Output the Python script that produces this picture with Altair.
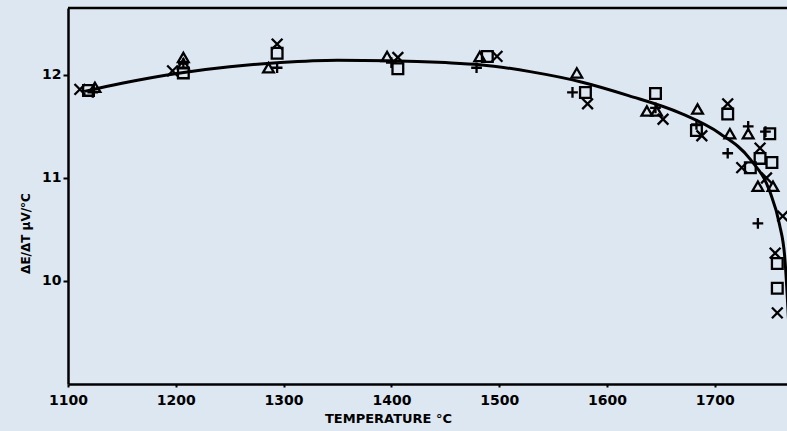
import altair as alt
import pandas as pd

# Fitted curve
curve_t = [1115, 1150, 1204, 1250, 1297, 1350, 1397, 1450, 1482, 1530, 1577, 1620, 1668, 1705, 1733, 1751, 1760, 1765, 1767, 1769]
curve_v = [11.84, 11.92, 12.02, 12.08, 12.12, 12.142, 12.138, 12.12, 12.10, 12.03, 11.93, 11.80, 11.63, 11.43, 11.18, 10.87, 10.55, 10.22, 9.90, 9.5]

# Measured points, four series (marker shapes)
tri_t = [1125, 1207, 1207, 1286, 1396, 1482, 1572, 1637, 1646, 1684, 1714, 1731, 1740, 1754]
tri_v = [11.88, 12.17, 12.11, 12.07, 12.18, 12.18, 12.02, 11.65, 11.65, 11.67, 11.43, 11.43, 10.92, 10.92]

crs_t = [1111, 1197, 1294, 1406, 1498, 1582, 1652, 1688, 1712, 1725, 1742, 1748, 1763, 1756, 1758]
crs_v = [11.86, 12.04, 12.30, 12.17, 12.18, 11.72, 11.57, 11.41, 11.72, 11.10, 11.29, 11.00, 10.63, 10.27, 9.69]

pls_t = [1123, 1207, 1294, 1400, 1479, 1568, 1645, 1683, 1712, 1731, 1747, 1740]
pls_v = [11.83, 12.11, 12.07, 12.12, 12.07, 11.83, 11.68, 11.52, 11.24, 11.50, 11.45, 10.56]

sq_t = [1119, 1207, 1294, 1406, 1489, 1580, 1645, 1683, 1712, 1733, 1742, 1751, 1753, 1758, 1758]
sq_v = [11.85, 12.02, 12.21, 12.06, 12.18, 11.83, 11.82, 11.46, 11.62, 11.10, 11.19, 11.43, 11.15, 10.17, 9.93]

x_ticks = [1100, 1200, 1300, 1400, 1500, 1600, 1700]
y_ticks = [10, 11, 12]
x_dom = [1100, 1767]
y_dom = [9, 12.65]

curve = pd.DataFrame({"T": curve_t, "V": curve_v})
rows = []
for name, ts, vs in [("triangle", tri_t, tri_v), ("cross", crs_t, crs_v),
                     ("plus", pls_t, pls_v), ("square", sq_t, sq_v)]:
    for t, v in zip(ts, vs):
        rows.append({"T": t, "V": v, "s": name})
pts = pd.DataFrame(rows)

FONT = "DejaVu Sans"
xs = alt.Scale(domain=x_dom, nice=False, zero=False)
ys = alt.Scale(domain=y_dom, nice=False, zero=False)

xax = alt.Axis(values=x_ticks, title="TEMPERATURE °C", grid=False, format="d",
               labelFont=FONT, labelFontSize=14, labelFontWeight="bold", labelColor="black",
               labelPadding=6, tickSize=3, tickColor="black", tickWidth=2,
               domainColor="black", domainWidth=2.5,
               titleFont=FONT, titleFontSize=13, titleFontWeight="bold", titleColor="black",
               titleX=320, titleY=34, titleBaseline="middle", titleAnchor="middle",
               labelFlush=False)
yax = alt.Axis(values=y_ticks, title="ΔE/ΔT  μV/°C", grid=False, format="d",
               labelFont=FONT, labelFontSize=14, labelFontWeight="bold", labelColor="black",
               labelPadding=2, tickSize=5, tickColor="black", tickWidth=2,
               domainColor="black", domainWidth=2.5,
               titleFont=FONT, titleFontSize=12, titleFontWeight="bold", titleColor="black",
               titleX=-43, titleY=225, titleAngle=-90, titleBaseline="middle", titleAnchor="middle")

line = alt.Chart(curve).mark_line(color="black", strokeWidth=3, interpolate="monotone", clip=True).encode(
    x=alt.X("T:Q", scale=xs, axis=xax),
    y=alt.Y("V:Q", scale=ys, axis=yax),
)

xpath = "M-1,-1L1,1M-1,1L1,-1"
ppath = "M-1,0L1,0M0,-1L0,1"
points = alt.Chart(pts).mark_point(filled=False, color="black", strokeWidth=2.3, opacity=1, size=115, clip=True).encode(
    x=alt.X("T:Q", scale=xs),
    y=alt.Y("V:Q", scale=ys),
    shape=alt.Shape("s:N", scale=alt.Scale(domain=["triangle", "cross", "plus", "square"],
                                            range=["triangle-up", xpath, ppath, "square"]), legend=None),
)

top = alt.Chart(pd.DataFrame({"y": [y_dom[1]]})).mark_rule(color="black", strokeWidth=2.5).encode(
    y=alt.Y("y:Q", scale=ys)
)

chart = alt.layer(top, line, points).properties(
    width=719, height=376,
    background="#dde7f2",
    padding={"left": 68, "top": 8, "right": 0, "bottom": 47},
    autosize=alt.AutoSizeParams(type="none"),
).configure_view(stroke=None)

chart.save("out.html", embed_options={"renderer": "svg", "actions": False})
